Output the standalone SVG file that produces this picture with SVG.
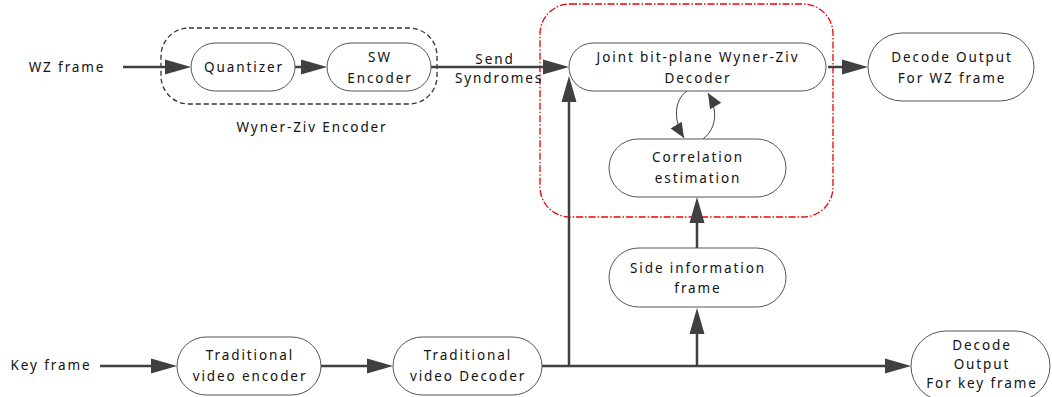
<svg xmlns="http://www.w3.org/2000/svg" width="1052" height="397" viewBox="0 0 1052 397">
  <defs>
    <marker id="arrow" markerUnits="userSpaceOnUse" markerWidth="26" markerHeight="15" refX="0" refY="7.5" orient="auto" overflow="visible">
      <path d="M0,0 L26,7.5 L0,15 z" fill="#404040"/>
    </marker>
    <marker id="arrowSmall" markerUnits="userSpaceOnUse" markerWidth="15" markerHeight="13" refX="15" refY="6.5" orient="auto" overflow="visible">
      <path d="M0,0 L15,6.5 L0,13 z" fill="#404040"/>
    </marker>
  </defs>
  <style>
    text { font-family: "Noto Sans", "Open Sans", sans-serif; font-size: 13.5px; letter-spacing: 1.9px; fill: #111; text-anchor: middle; dominant-baseline: central; }
    .node { fill: #fff; stroke: #555; stroke-width: 1; }
    .flow { fill: none; stroke: #404040; stroke-width: 2.5; marker-end: url(#arrow); }
    .loop { fill: none; stroke: #404040; stroke-width: 1; marker-end: url(#arrowSmall); }
    .enc-group { fill: none; stroke: #333; stroke-width: 1.3; stroke-dasharray: 5 3; }
    .dec-group { fill: none; stroke: #e00; stroke-width: 1.3; stroke-dasharray: 7 2 1.5 2; }
  </style>
  <rect width="1052" height="397" fill="#fff"/>

  <!-- grouping frames -->
  <g id="wz-encoder-frame">
    <rect class="enc-group" x="161" y="28" width="276" height="76" rx="28"/>
    <text x="312" y="127">Wyner-Ziv Encoder</text>
  </g>
  <g id="wz-decoder-frame">
    <rect class="dec-group" x="540" y="4" width="293" height="213" rx="30"/>
  </g>

  <!-- connectors -->
  <g id="connectors">
    <path class="flow" d="M123,67 H165"/>
    <path class="flow" d="M295,67 H301"/>
    <path class="flow" d="M431,67 H543"/>
    <path class="flow" d="M828,67 H842"/>
    <path class="flow" d="M100,366 H151"/>
    <path class="flow" d="M321,366 H367"/>
    <path class="flow" d="M542,366 H885"/>
    <path class="flow" d="M569,366 V102"/>
    <path class="flow" d="M697,366 V334"/>
    <path class="flow" d="M697,248 V223"/>
    <path class="loop" d="M687,91 C674,100 673,120 684,138"/>
    <path class="loop" d="M703,139 C717,128 718,110 708,93"/>
  </g>

  <!-- inputs -->
  <g id="label-wz-frame"><text x="67" y="67">WZ frame</text></g>
  <g id="label-key-frame"><text x="51" y="365">Key frame</text></g>
  <g id="label-send-syndromes">
    <text x="495" y="59">Send</text>
    <text x="499" y="78">Syndromes</text>
  </g>

  <!-- nodes -->
  <g id="quantizer">
    <rect class="node" x="191" y="43" width="104" height="48" rx="24"/>
    <text x="244" y="67">Quantizer</text>
  </g>
  <g id="sw-encoder">
    <rect class="node" x="327" y="43" width="104" height="48" rx="24"/>
    <text x="380" y="57">SW</text>
    <text x="380" y="78">Encoder</text>
  </g>
  <g id="joint-decoder">
    <rect class="node" x="569" y="43" width="257" height="48" rx="24"/>
    <text x="698" y="57">Joint bit-plane Wyner-Ziv</text>
    <text x="698" y="78">Decoder</text>
  </g>
  <g id="decode-output-wz">
    <rect class="node" x="868" y="33" width="166" height="68" rx="34"/>
    <text x="952" y="57">Decode Output</text>
    <text x="952" y="78">For WZ frame</text>
  </g>
  <g id="correlation-estimation">
    <rect class="node" x="609" y="139" width="177" height="58" rx="29"/>
    <text x="698" y="157">Correlation</text>
    <text x="698" y="178">estimation</text>
  </g>
  <g id="side-information">
    <rect class="node" x="609" y="248" width="177" height="59" rx="29.5"/>
    <text x="698" y="268">Side information</text>
    <text x="698" y="288">frame</text>
  </g>
  <g id="traditional-encoder">
    <rect class="node" x="177" y="337" width="144" height="58" rx="29"/>
    <text x="250" y="355">Traditional</text>
    <text x="250" y="376">video encoder</text>
  </g>
  <g id="traditional-decoder">
    <rect class="node" x="393" y="337" width="149" height="58" rx="29"/>
    <text x="468" y="355">Traditional</text>
    <text x="468" y="376">video Decoder</text>
  </g>
  <g id="decode-output-key">
    <rect class="node" x="911" y="331" width="139" height="70" rx="35"/>
    <text x="982" y="345">Decode</text>
    <text x="982" y="364">Output</text>
    <text x="982" y="383">For key frame</text>
  </g>
</svg>
